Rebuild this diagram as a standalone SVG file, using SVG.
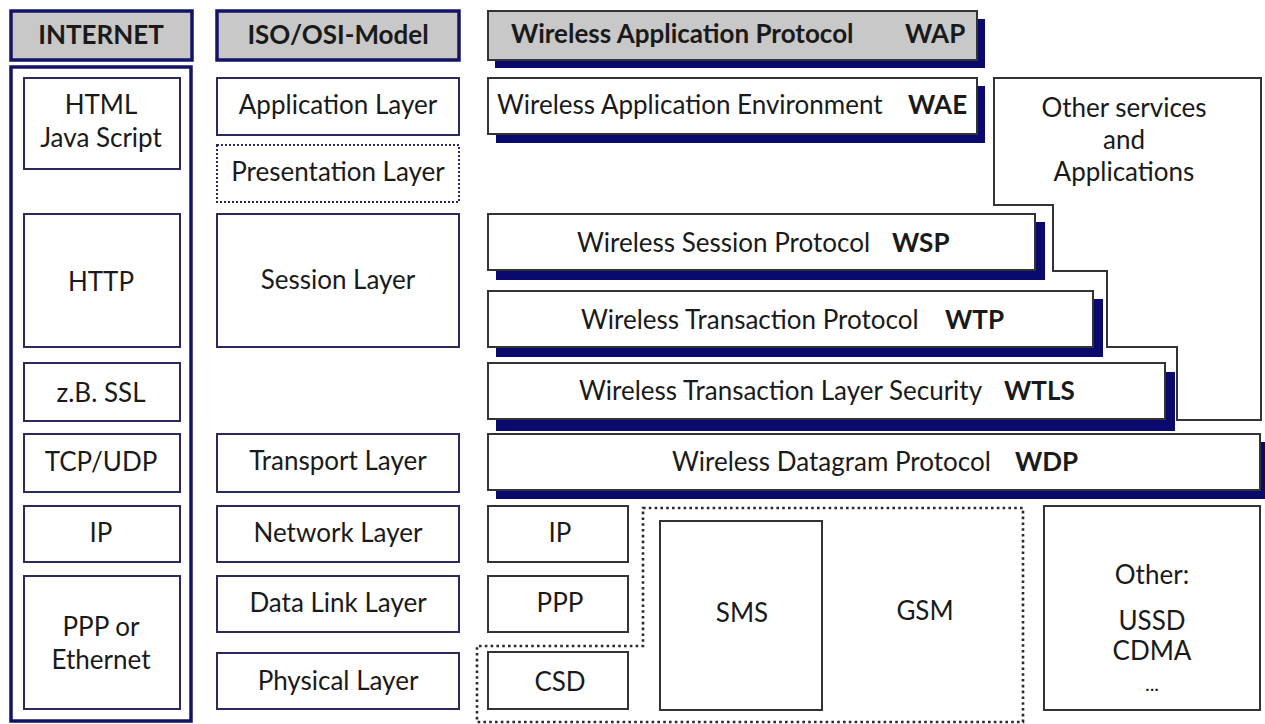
<svg xmlns="http://www.w3.org/2000/svg" width="1265" height="724" viewBox="0 0 1265 724">
<style>
text{font-family:Lato,"Open Sans","Liberation Sans",sans-serif;font-size:26px;fill:#1a1a1a;text-anchor:middle}
.b{font-weight:bold}
.st{text-anchor:start}
.sm{font-size:20px}
.hdr{fill:#c8c8c8;stroke:#141466;stroke-width:3.5}
.col{fill:#fff;stroke:#141466;stroke-width:3.5}
.nb{fill:#fff;stroke:#2a2a5e;stroke-width:2}
.dot{fill:#fff;stroke:#2a2a5e;stroke-width:2;stroke-dasharray:2 2}
.wb{fill:#fff;stroke:#333;stroke-width:2}
.wh{fill:#c8c8c8;stroke:#333;stroke-width:2}
.sh{fill:#0a0a6e}
.gsm{fill:none;stroke:#2a2a2a;stroke-width:2.6;stroke-dasharray:2.6 3.2}
</style>
<rect width="1265" height="724" fill="#fff"/>
<g id="internet-header"><rect class="hdr" x="11" y="11" width="181" height="49"/><text class="b" x="101" y="44">INTERNET</text></g>
<g id="iso-header"><rect class="hdr" x="217" y="11" width="242" height="49"/><text class="b" x="338" y="44">ISO/OSI-Model</text></g>
<g id="wap-header"><rect class="sh" x="495" y="19" width="490" height="49"/><rect class="wh" x="488" y="11" width="489" height="49"/><text class="b st" x="511" y="43">Wireless Application Protocol</text><text class="b st" x="905" y="43">WAP</text></g>
<g id="internet-column"><rect class="col" x="11" y="67" width="180" height="654"/></g>
<g id="html"><rect class="nb" x="24" y="78" width="156" height="91"/><text x="101" y="114">HTML</text><text x="101" y="147">Java Script</text></g>
<g id="http"><rect class="nb" x="24" y="214" width="156" height="133"/><text x="101" y="291">HTTP</text></g>
<g id="ssl"><rect class="nb" x="24" y="363" width="156" height="58"/><text x="101" y="402">z.B. SSL</text></g>
<g id="tcpudp"><rect class="nb" x="24" y="434" width="156" height="58"/><text x="101" y="471">TCP/UDP</text></g>
<g id="ip-internet"><rect class="nb" x="24" y="506" width="156" height="56"/><text x="101" y="542">IP</text></g>
<g id="ppp-ethernet"><rect class="nb" x="24" y="576" width="156" height="133"/><text x="101" y="636">PPP or</text><text x="101" y="669">Ethernet</text></g>
<g id="application-layer"><rect class="nb" x="217" y="78" width="242" height="57"/><text x="338" y="114">Application Layer</text></g>
<g id="presentation-layer"><rect class="dot" x="217" y="145" width="242" height="57"/><text x="338" y="181">Presentation Layer</text></g>
<g id="session-layer"><rect class="nb" x="217" y="214" width="242" height="133"/><text x="338" y="289">Session Layer</text></g>
<g id="transport-layer"><rect class="nb" x="217" y="434" width="242" height="58"/><text x="338" y="470">Transport Layer</text></g>
<g id="network-layer"><rect class="nb" x="217" y="506" width="242" height="56"/><text x="338" y="542">Network Layer</text></g>
<g id="datalink-layer"><rect class="nb" x="217" y="576" width="242" height="56"/><text x="338" y="612">Data Link Layer</text></g>
<g id="physical-layer"><rect class="nb" x="217" y="653" width="242" height="56"/><text x="338" y="690">Physical Layer</text></g>
<g id="other-services"><path class="wb" d="M994 78 H1261 V420 H1177 V347 H1107 V271 H1053 V205 H994 Z"/><text x="1124" y="117">Other services</text><text x="1124" y="149">and</text><text x="1124" y="181">Applications</text></g>
<g id="wae"><rect class="sh" x="496" y="86" width="489" height="57"/><rect class="wb" x="488" y="78" width="489" height="56"/><text class="st" x="497" y="114">Wireless Application Environment</text><text class="b st" x="908" y="114">WAE</text></g>
<g id="wsp"><rect class="sh" x="496" y="222" width="549" height="58"/><rect class="wb" x="488" y="214" width="547" height="56"/><text class="st" x="577" y="252">Wireless Session Protocol</text><text class="b st" x="892" y="252">WSP</text></g>
<g id="wtp"><rect class="sh" x="496" y="299" width="607" height="58"/><rect class="wb" x="488" y="291" width="605" height="56"/><text class="st" x="581" y="329">Wireless Transaction Protocol</text><text class="b st" x="945" y="329">WTP</text></g>
<g id="wtls"><rect class="sh" x="496" y="372" width="679" height="59"/><rect class="wb" x="488" y="363" width="677" height="56"/><text class="st" x="579" y="400">Wireless Transaction Layer Security</text><text class="b st" x="1004" y="400">WTLS</text></g>
<g id="wdp"><rect class="sh" x="496" y="442" width="775" height="57"/><rect class="wb" x="488" y="434" width="772" height="56"/><text class="st" x="672" y="471">Wireless Datagram Protocol</text><text class="b st" x="1015" y="471">WDP</text></g>
<g id="gsm"><path class="gsm" d="M643 508 H1023 V722 H477 V646 H643 Z"/><text x="925" y="620">GSM</text></g>
<g id="ip-wap"><rect class="wb" x="488" y="506" width="140" height="56"/><text x="560" y="542">IP</text></g>
<g id="ppp-wap"><rect class="wb" x="488" y="576" width="140" height="56"/><text x="560" y="612">PPP</text></g>
<g id="csd"><rect class="wb" x="488" y="652" width="140" height="57"/><text x="560" y="691">CSD</text></g>
<g id="sms"><rect class="wb" x="660" y="521" width="162" height="189"/><text x="742" y="622">SMS</text></g>
<g id="other"><rect class="wb" x="1044" y="506" width="216" height="204"/><text x="1152" y="584">Other:</text><text x="1152" y="630">USSD</text><text x="1152" y="660">CDMA</text><text class="sm" x="1152" y="691">...</text></g>
<g id="connectors"/>
</svg>
